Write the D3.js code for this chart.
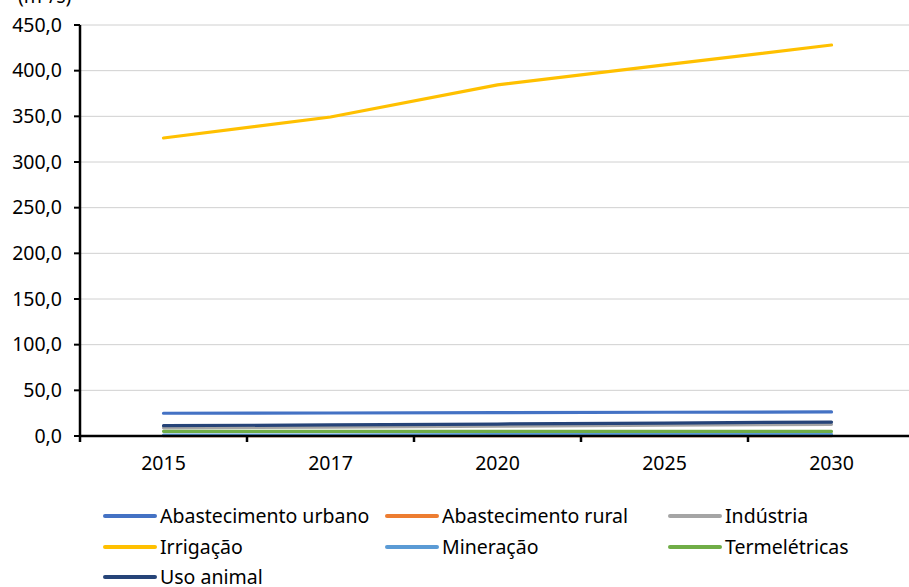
<!DOCTYPE html>
<html><head><meta charset="utf-8">
<script src="https://cdn.jsdelivr.net/npm/d3@7"></script>
<style>body{margin:0;background:#fff}svg{display:block}text{font-family:"Noto Sans","Open Sans",sans-serif;fill:#000}</style>
</head><body><svg id="c" width="909" height="587"></svg>
<script>
const years = ["2015","2017","2020","2025","2030"];
const seriesNames = ["Abastecimento urbano","Abastecimento rural","Indústria","Irrigação","Mineração","Termelétricas","Uso animal"];
const urbano = [24.9, 25.2, 25.5, 26.0, 26.4];
const rural = [0.3, 0.3, 0.3, 0.4, 0.4];
const industria = [9.0, 9.8, 10.8, 11.8, 12.8];
const irrigacao = [326.3, 349.3, 384.5, 406.3, 428.1];
const mineracao = [0.9, 1.1, 1.4, 1.7, 1.9];
const termeletricas = [5.1, 5.1, 5.0, 5.0, 5.0];
const usoAnimal = [11.3, 12.1, 13.1, 14.2, 15.3];
const colors = ["#4472C4","#ED7D31","#A5A5A5","#FFC000","#5B9BD5","#70AD47","#264478"];
const yTicks = [0,50,100,150,200,250,300,350,400,450];
const allValues = [urbano, rural, industria, irrigacao, mineracao, termeletricas, usoAnimal];

const FS = 19.5;
const svg = d3.select("#c");
const x = d3.scaleBand().domain(years).range([80, 915]);
const y = d3.scaleLinear().domain([0, 450]).range([436, 25]);
const fmt = v => v.toFixed(1).replace(".", ",");

// gridlines
svg.append("g").selectAll("line").data(yTicks.slice(1)).join("line")
  .attr("x1", 80).attr("x2", 909).attr("y1", d => y(d)).attr("y2", d => y(d))
  .attr("stroke", "#d0d0d0").attr("stroke-width", 1);

// y axis labels
svg.append("g").selectAll("text").data(yTicks).join("text")
  .attr("x", 62).attr("y", d => y(d)).attr("dy", "0.35em").attr("text-anchor", "end")
  .attr("font-size", FS).text(fmt);
svg.append("g").selectAll("line").data(yTicks).join("line")
  .attr("x1", 74).attr("x2", 80).attr("y1", d => y(d)).attr("y2", d => y(d))
  .attr("stroke", "#000").attr("stroke-width", 2);
svg.append("text").attr("x", 18).attr("y", 3).attr("font-size", FS).text("(m³/s)");

// lines
const line = d3.line().x((d, i) => x(years[i]) + x.bandwidth() / 2).y(d => y(d));
allValues.forEach((vals, k) => {
  svg.append("path").datum(vals).attr("d", line).attr("fill", "none")
    .attr("stroke", colors[k]).attr("stroke-width", 3.2).attr("stroke-linecap", "round");
});

// axes
svg.append("line").attr("x1", 80).attr("x2", 80).attr("y1", y(450)).attr("y2", 436)
  .attr("stroke", "#000").attr("stroke-width", 2.5);
svg.append("line").attr("x1", 79).attr("x2", 909).attr("y1", 436).attr("y2", 436)
  .attr("stroke", "#000").attr("stroke-width", 2.5);
const xb = years.map(d => x(d)).concat([x(years[years.length-1]) + x.bandwidth()]);
svg.append("g").selectAll("line").data(xb).join("line")
  .attr("x1", d => d).attr("x2", d => d).attr("y1", 436).attr("y2", 442)
  .attr("stroke", "#000").attr("stroke-width", 2.5);
svg.append("g").selectAll("text").data(years).join("text")
  .attr("x", d => x(d) + x.bandwidth() / 2).attr("y", 463).attr("dy", "0.35em").attr("text-anchor", "middle")
  .attr("font-size", FS).text(d => d);

// legend
const colX = [105, 387, 670];
const rowY = [516, 547, 577];
seriesNames.forEach((name, i) => {
  const cx = colX[i % 3], cy = rowY[Math.floor(i / 3)];
  svg.append("line").attr("x1", cx).attr("x2", cx + 50).attr("y1", cy).attr("y2", cy)
    .attr("stroke", colors[i]).attr("stroke-width", 4).attr("stroke-linecap", "round");
  svg.append("text").attr("x", cx + 55).attr("y", cy).attr("dy", "0.35em")
    .attr("font-size", FS).text(name);
});
</script></body></html>
